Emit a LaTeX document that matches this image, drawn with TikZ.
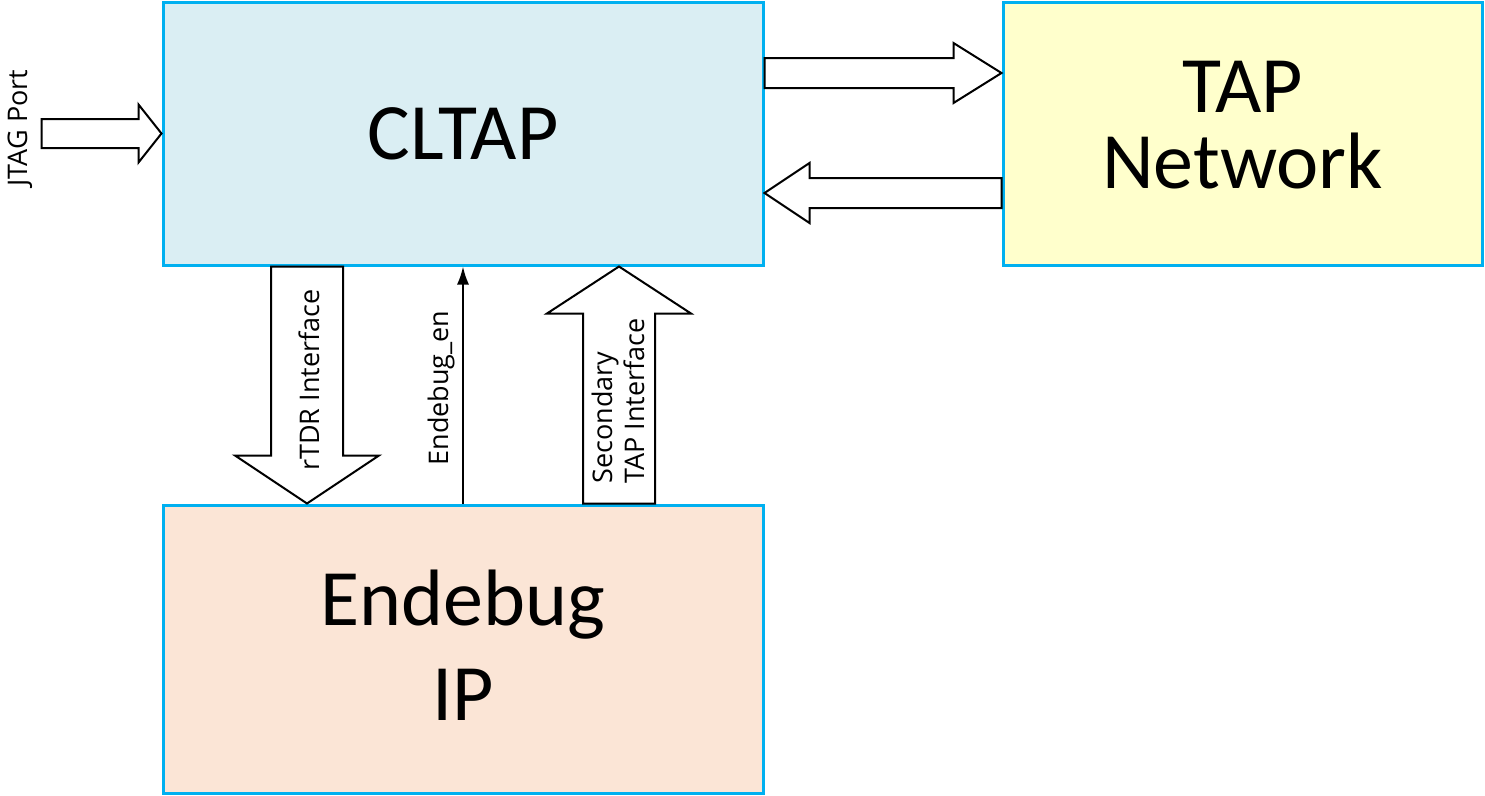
\documentclass[tikz,border=0pt]{standalone}
\usepackage{fontspec}
\setmainfont{Carlito}
\newfontfamily\smallfont{Open Sans}
\usetikzlibrary{calc,arrows.meta}

\definecolor{cltapblue}{HTML}{DAEEF3}
\definecolor{tapyellow}{HTML}{FFFFCC}
\definecolor{ipsalmon}{HTML}{FBE5D6}
\definecolor{boxcyan}{HTML}{00B0F0}

% hollow block arrow: from, to, half shaft, half head, head length
\newcommand{\fatarrow}[5]{%
	\coordinate (fa-h) at ($(#2)!#5!(#1)$);
	\draw[fat arrow] ($(#1)!#3!90:(#2)$) -- ($(fa-h)!#3!90:(#2)$) -- ($(fa-h)!#4!90:(#2)$)
		-- (#2) -- ($(fa-h)!#4!-90:(#2)$) -- ($(fa-h)!#3!-90:(#2)$) -- ($(#1)!#3!-90:(#2)$) -- cycle;}

\begin{document}
\begin{tikzpicture}
	[x=1pt,y=-1pt,
		block node/.style={draw=boxcyan,line width=3pt,inner sep=0pt,font=\fontsize{80}{76}\selectfont,align=center},
		fat arrow/.style={draw=black,fill=white,line width=2pt,line join=miter},
		port label/.style={rotate=90,font=\smallfont\fontsize{27}{32}\selectfont,inner sep=0pt}]

	\useasboundingbox (0,0) rectangle (1485,795);

	\node[block node, fill=cltapblue, minimum width=600pt, minimum height=263pt] (cltap) at (463,133.5) {CLTAP};
	\node[block node, fill=tapyellow, minimum width=479pt, minimum height=263pt, text depth=18pt] (tapnet) at (1242.5,133.5) {TAP\\Network};
	\node[block node, fill=ipsalmon, minimum width=600pt, minimum height=288pt, font=\fontsize{80}{95}\selectfont, text depth=8pt] (endebug) at (463,649) {Endebug\\IP};

	% jtag in
	\coordinate (jtag) at ($(cltap.west)+(-120,0)$);
	\fatarrow{jtag}{cltap.west}{14.5pt}{29pt}{23pt}
	\node[port label] (jtaglbl) at (20,128) {JTAG Port};

	% to and from the network
	\coordinate (tonet) at ($(cltap.north east)+(0,72.5)$);
	\fatarrow{tonet}{tonet -| tapnet.west}{15pt}{30pt}{48pt}
	\coordinate (fromnet) at ($(tapnet.north west)+(0,192.5)$);
	\fatarrow{fromnet}{fromnet -| cltap.east}{15pt}{30pt}{45pt}

	% rtdr down
	\coordinate (rtdr) at ($(cltap.south west)+(145.5,0)$);
	\fatarrow{rtdr}{rtdr |- endebug.north}{36pt}{72pt}{48pt}
	\node[port label] (rtdrlbl) at (309,380) {rTDR Interface};

	% enable
	\draw[line width=2pt,-{Latex[length=18pt,width=12pt]}] (endebug.north) -- (cltap.south);
	\node[port label] (enlbl) at (441,388) {Endebug\_en};

	% secondary tap up
	\coordinate (sectap) at ($(endebug.north west)+(457.5,0)$);
	\fatarrow{sectap}{sectap |- cltap.south}{36pt}{72pt}{47pt}
	\node[port label, align=left] (seclbl) at (618,401) {Secondary\\TAP Interface};

\end{tikzpicture}
\end{document}
